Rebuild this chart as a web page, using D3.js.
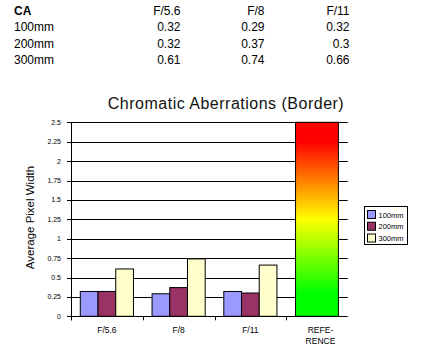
<!DOCTYPE html>
<html>
<head>
<meta charset="utf-8">
<script src="https://cdn.jsdelivr.net/npm/d3@7"></script>
<style>
body{margin:0;background:#fff;}
svg{display:block;font-family:"Liberation Sans",Arial,sans-serif;}
</style>
</head>
<body>
<div id="container"></div>
<script>
let w=439;
let h=351;

// data
let stops=["F/5.6","F/8","F/11"];
let lenses=["100mm","200mm","300mm"];
let ca100=[0.32,0.29,0.32];
let ca200=[0.32,0.37,0.3];
let ca300=[0.61,0.74,0.66];
let refLabel=["REFE-","RENCE"];
let refValue=2.5;
let yTicks=[0,0.25,0.5,0.75,1,1.25,1.5,1.75,2,2.25,2.5];
let lensColors=["#9999ff","#993366","#ffffcc"];

let allSeries=[ca100,ca200,ca300];

let viz=d3.select("#container")
  .append("svg")
  .attr("width",w)
  .attr("height",h);

// table on top
let tbl=viz.append("g").attr("class","table");
tbl.append("text").text("CA").attr("x",14).attr("y",14.5)
  .attr("font-size",12).attr("font-weight","bold");
let colRight=d3.scaleOrdinal().domain(stops).range([180.5,264.5,349.5]);
tbl.selectAll(".colhead").data(stops).enter()
  .append("text")
  .attr("class","colhead")
  .attr("x",d=>colRight(d))
  .attr("y",14.5)
  .attr("text-anchor","end")
  .attr("font-size",12)
  .text(d=>d);
let rowY=d3.scalePoint().domain(lenses).range([31,64]);
lenses.forEach(function(lens,i){
  tbl.append("text").text(lens).attr("x",14).attr("y",rowY(lens)).attr("font-size",12);
  tbl.selectAll(".v"+i).data(allSeries[i]).enter()
    .append("text")
    .attr("x",(d,j)=>colRight(stops[j]))
    .attr("y",rowY(lens))
    .attr("text-anchor","end")
    .attr("font-size",12)
    .text(d=>String(d));
});

// chart
let pLeft=71, pTop=122.3, pBottom=316.3, pRight=347.7;
let cats=stops.concat(["REF"]);
let x=d3.scaleBand().domain(cats).range([pLeft,358]).paddingInner(0).paddingOuter(0);
let y=d3.scaleLinear().domain([0,2.5]).range([pBottom,pTop]);
let pad=9.3;
let xi=d3.scaleBand().domain(lenses).range([pad,x.bandwidth()-pad]);

viz.append("text")
  .text("Chromatic Aberrations (Border)")
  .attr("x",226).attr("y",108.5)
  .attr("text-anchor","middle")
  .attr("font-size",16)
  .attr("letter-spacing",0.5)
  .attr("fill","#111");

// gridlines
viz.append("g").selectAll("line").data(yTicks.filter(d=>d>0)).enter()
  .append("line")
  .attr("x1",pLeft).attr("x2",pRight)
  .attr("y1",d=>Math.round(y(d))+0.5).attr("y2",d=>Math.round(y(d))+0.5)
  .attr("stroke","#000");

// bars
let groups=viz.selectAll(".datagroup").data(stops).enter()
  .append("g")
  .attr("class","datagroup")
  .attr("transform",d=>"translate("+x(d)+",0)");
groups.selectAll("rect").data((d,j)=>lenses.map((l,i)=>({lens:l,v:allSeries[i][j],c:lensColors[i]}))).enter()
  .append("rect")
  .attr("x",d=>xi(d.lens))
  .attr("y",d=>y(d.v))
  .attr("width",xi.bandwidth())
  .attr("height",d=>pBottom-y(d.v))
  .attr("fill",d=>d.c)
  .attr("stroke","#000")
  .attr("stroke-width",1);

// reference gradient bar
let grad=viz.append("defs").append("linearGradient")
  .attr("id","refgrad").attr("x1",0).attr("y1",0).attr("x2",0).attr("y2",1);
[[0,"#ff0000"],[0.1,"#ff0000"],[0.5,"#ffff00"],[0.88,"#00ff00"],[1,"#00ff00"]].forEach(function(s){
  grad.append("stop").attr("offset",s[0]).attr("stop-color",s[1]);
});
let refX=x("REF")+pad;
viz.append("rect")
  .attr("x",refX)
  .attr("y",y(refValue))
  .attr("width",pRight-pad-refX)
  .attr("height",pBottom-y(refValue))
  .attr("fill","url(#refgrad)")
  .attr("stroke","#000");

// y axis
let yAxis=viz.append("g");
yAxis.append("line").attr("x1",pLeft+0.5).attr("x2",pLeft+0.5).attr("y1",pTop).attr("y2",pBottom+4).attr("stroke","#000");
yAxis.append("line").attr("x1",pLeft).attr("x2",pRight).attr("y1",Math.round(pBottom)+0.5).attr("y2",Math.round(pBottom)+0.5).attr("stroke","#000");
yAxis.selectAll(".yt").data(yTicks).enter()
  .append("line")
  .attr("x1",pLeft-4).attr("x2",pLeft)
  .attr("y1",d=>Math.round(y(d))+0.5).attr("y2",d=>Math.round(y(d))+0.5)
  .attr("stroke","#000");
yAxis.selectAll(".yl").data(yTicks).enter()
  .append("text")
  .attr("x",61)
  .attr("y",d=>y(d)+2.5)
  .attr("text-anchor","end")
  .attr("font-size",7)
  .text(d=>String(d));
viz.append("text")
  .text("Average Pixel Width")
  .attr("transform","translate(33.5,217.5) rotate(-90)")
  .attr("text-anchor","middle")
  .attr("font-size",11.5);

// x ticks and labels
viz.selectAll(".xt").data(cats).enter()
  .append("line")
  .attr("x1",d=>Math.round(x(d))+0.5).attr("x2",d=>Math.round(x(d))+0.5)
  .attr("y1",pBottom).attr("y2",pBottom+4)
  .attr("stroke","#000");
viz.selectAll(".xl").data(stops).enter()
  .append("text")
  .attr("x",d=>x(d)+x.bandwidth()/2)
  .attr("y",333)
  .attr("text-anchor","middle")
  .attr("font-size",8.5)
  .text(d=>d);
viz.selectAll(".rl").data(refLabel).enter()
  .append("text")
  .attr("x",(x("REF")+pRight)/2+3.5)
  .attr("y",(d,i)=>333+i*11)
  .attr("text-anchor","middle")
  .attr("font-size",8.5)
  .text(d=>d);

// legend
let legend=viz.append("g").attr("transform","translate(364.5,206.5)");
legend.append("rect").attr("width",43).attr("height",38).attr("fill","#fff").attr("stroke","#000");
let ly=d3.scalePoint().domain(lenses).range([4,27.5]);
legend.selectAll(".sw").data(lenses).enter()
  .append("rect")
  .attr("x",3).attr("y",d=>ly(d))
  .attr("width",8).attr("height",8)
  .attr("fill",(d,i)=>lensColors[i])
  .attr("stroke","#000");
legend.selectAll(".lt").data(lenses).enter()
  .append("text")
  .attr("x",14).attr("y",d=>ly(d)+7)
  .attr("font-size",7.5)
  .text(d=>d);
</script>
</body>
</html>
